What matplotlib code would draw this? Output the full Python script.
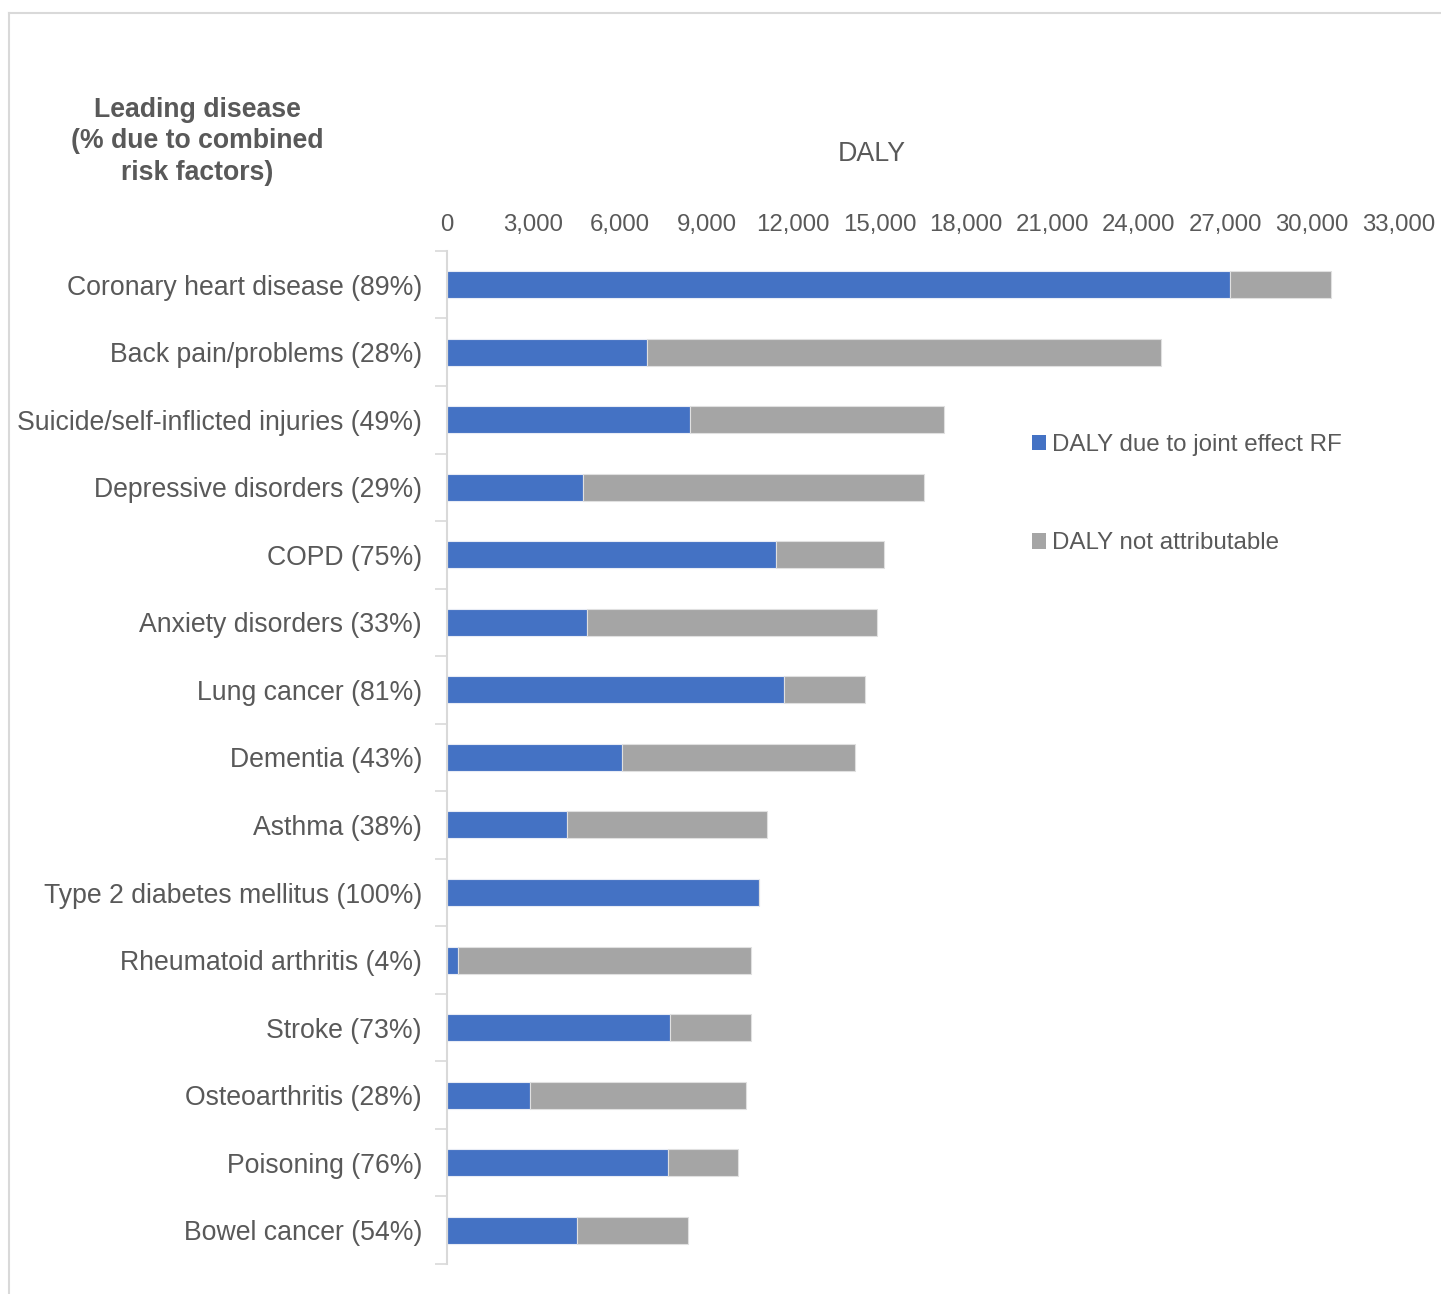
import numpy as np
import matplotlib.pyplot as plt
from matplotlib.lines import Line2D
from matplotlib.patches import Patch

plt.rcParams['font.family'] = ['Liberation Sans', 'DejaVu Sans']

diseases = [
    "Coronary heart disease (89%)",
    "Back pain/problems (28%)",
    "Suicide/self-inflicted injuries (49%)",
    "Depressive disorders (29%)",
    "COPD (75%)",
    "Anxiety disorders (33%)",
    "Lung cancer (81%)",
    "Dementia (43%)",
    "Asthma (38%)",
    "Type 2 diabetes mellitus (100%)",
    "Rheumatoid arthritis (4%)",
    "Stroke (73%)",
    "Osteoarthritis (28%)",
    "Poisoning (76%)",
    "Bowel cancer (54%)",
]
daly_joint_rf = [27160, 6950, 8440, 4710, 11420, 4840, 11700, 6060, 4150, 10830, 380, 7720, 2870, 7680, 4500]
daly_total = [30660, 24780, 17230, 16540, 15160, 14910, 14500, 14150, 11110, 10830, 10550, 10550, 10380, 10100, 8370]
x_ticks = np.arange(0, 33001, 3000)

blue = "#4472C4"
grey = "#A5A5A5"
text_col = "#595959"
axis_col = "#D9D9D9"

joint = np.array(daly_joint_rf)
not_attr = np.array(daly_total) - joint
y = np.arange(len(diseases))

fig = plt.figure(figsize=(14.41, 12.94), dpi=100)
ax = fig.add_axes([0.3102, 0.0232, 0.6603, 0.7829])

ax.barh(y, joint, height=0.4, color=blue, edgecolor="#E8ECF5", linewidth=0.8)
ax.barh(y, not_attr, left=joint, height=0.4, color=grey, edgecolor="#E0E0E0", linewidth=0.8)

ax.set_xlim(0, 33000)
ax.set_ylim(len(diseases) - 0.5, -0.5)
ax.xaxis.tick_top()
ax.set_xticks(x_ticks)
ax.set_xticklabels([f"{v:,}" for v in x_ticks])
ax.tick_params(axis="x", length=0, pad=11, labelsize=17.3, labelcolor=text_col)

ax.set_yticks(y)
ax.set_yticklabels(diseases)
ax.tick_params(axis="y", length=0, pad=18, labelsize=19.2, labelcolor=text_col)
# category separators on the y axis
ax.set_yticks(np.arange(-0.5, len(diseases)), minor=True)
ax.tick_params(axis="y", which="minor", length=9, width=1.2, color=axis_col)

for side in ["top", "right", "bottom"]:
    ax.spines[side].set_visible(False)
ax.spines["left"].set_color(axis_col)
ax.spines["left"].set_linewidth(1.5)

fig.text(0.1367, 0.8908, "Leading disease\n(% due to combined\nrisk factors)", ha="center", va="center",
         fontsize=19.2, fontweight="bold", color=text_col, linespacing=1.26)
fig.text(0.6051, 0.881, "DALY", ha="center", va="center", fontsize=19.3, color=text_col)

handles = [Patch(facecolor=blue), Patch(facecolor=grey)]
fig.legend(handles, ["DALY due to joint effect RF", "DALY not attributable"],
           loc="upper left", bbox_to_anchor=(0.7008, 0.6812), frameon=False,
           fontsize=17.4, labelcolor=text_col, handlelength=0.6, handleheight=0.6,
           handletextpad=0.25, labelspacing=3.15)

# outer chart frame
fig.add_artist(Line2D([0.0062, 1.0], [0.99, 0.99], color=axis_col, linewidth=1.5))
fig.add_artist(Line2D([0.0062, 0.0062], [0.0, 0.99], color=axis_col, linewidth=1.5))

fig.savefig("out.png", dpi=100)
